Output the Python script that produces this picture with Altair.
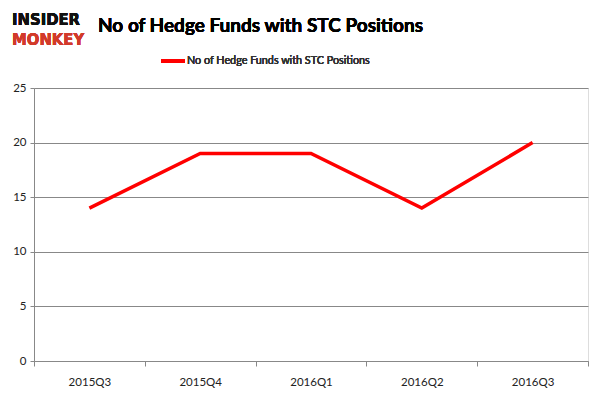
import altair as alt
import pandas as pd

quarters = ["2015Q3", "2015Q4", "2016Q1", "2016Q2", "2016Q3"]
funds = [14, 19, 19, 14, 20]
series_name = "No of Hedge Funds with STC Positions"
title_text = "No of Hedge Funds with STC Positions"

df = pd.DataFrame({"q": quarters, "v": funds})

GRID = "#888888"

base = alt.Chart(df)

line = base.mark_line(color="#ff0000", strokeWidth=3.5).encode(
    x=alt.X(
        "q:N",
        sort=quarters,
        bandPosition=0.5,
        scale=alt.Scale(type="band", paddingInner=0, paddingOuter=0),
        axis=alt.Axis(
            title=None,
            labelAngle=0,
            tickBand="extent",
            domainColor=GRID,
            tickColor=GRID,
            tickSize=5,
            labelPadding=10,
            labelFont="Lato",
            labelFontSize=11.5,
            labelColor="#222222",
            grid=False,
        ),
    ),
    y=alt.Y(
        "v:Q",
        scale=alt.Scale(domain=[0, 25], nice=False),
        axis=alt.Axis(
            title=None,
            values=[0, 5, 10, 15, 20, 25],
            grid=True,
            gridColor=GRID,
            domainColor=GRID,
            tickColor=GRID,
            tickSize=4,
            labelPadding=4,
            labelFont="Lato",
            labelFontSize=11.5,
            labelColor="#222222",
        ),
    ),
)

title = base.mark_text(
    text=title_text, font="Lato", fontSize=19, fontWeight="bold",
    align="left", baseline="middle", color="#000000",
).encode(x=alt.value(64), y=alt.value(-62))

logo1 = base.mark_text(
    text="INSIDER", font="DejaVu Sans Condensed", fontSize=16.5, fontWeight="bold",
    align="left", baseline="middle", color="#111111",
).encode(x=alt.value(-22), y=alt.value(-68))

logo2 = base.mark_text(
    text="MONKEY", font="DejaVu Sans Condensed", fontSize=16.5, fontWeight="bold",
    align="left", baseline="middle", color="#d23a2a",
).encode(x=alt.value(-22), y=alt.value(-48))

leg_line = base.mark_rule(color="#ff0000", strokeWidth=3.5).encode(
    x=alt.value(127), x2=alt.value(151), y=alt.value(-27)
)
leg_text = base.mark_text(
    text=series_name, font="Lato", fontSize=10.8, fontWeight="normal",
    align="left", baseline="middle", color="#333333",
).encode(x=alt.value(153), y=alt.value(-27))

chart = alt.layer(line, title, logo1, logo2, leg_line, leg_text).properties(
    width=554,
    height=273,
    autosize=alt.AutoSizeParams(type="none"),
    padding={"left": 26, "top": 80, "right": 4, "bottom": 30},
).configure_view(stroke=None).configure(background="white")

chart.save("out.html", embed_options={"renderer": "svg", "actions": False})
